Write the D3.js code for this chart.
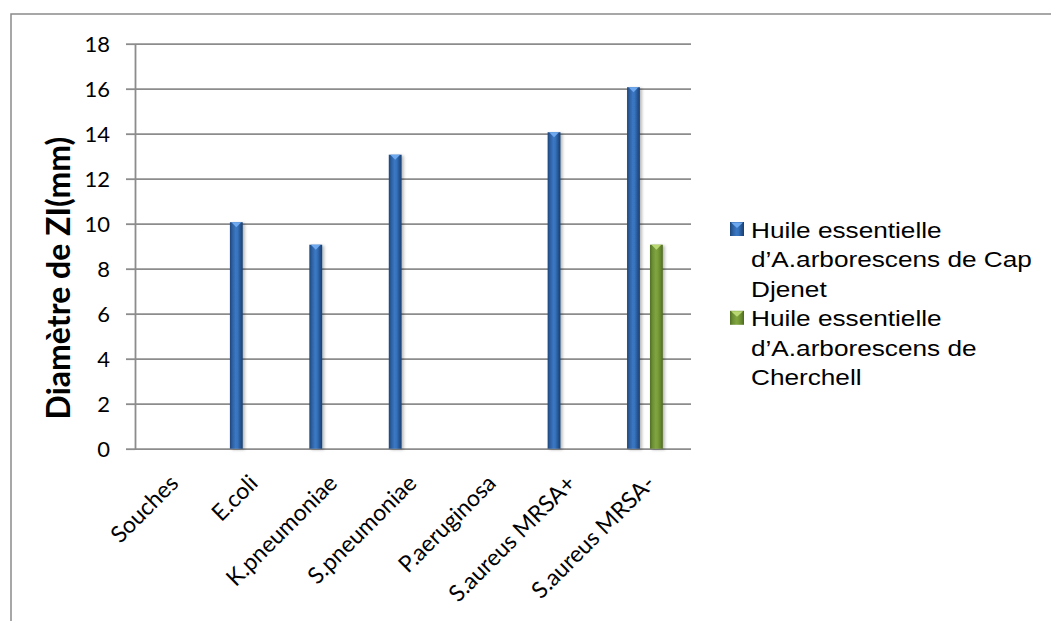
<!DOCTYPE html>
<html>
<head>
<meta charset="utf-8">
<script src="https://cdn.jsdelivr.net/npm/d3@7"></script>
<style>
  html, body { margin: 0; padding: 0; background: #fff; }
  svg { display: block; }
</style>
</head>
<body>
<svg id="chart" width="1051" height="621"></svg>
<script>
// Inhibition zone diameters (mm) per bacterial strain
const categories = ["Souches", "E.coli", "K.pneumoniae", "S.pneumoniae", "P.aeruginosa", "S.aureus MRSA+", "S.aureus MRSA-"];
const capDjenet = [null, 10, 9, 13, 0, 14, 16];
const cherchell = [null, null, null, null, null, null, 9];
const seriesKeys = ["capDjenet", "cherchell"];
const legendLines = [
  ["Huile essentielle", "d\u2019A.arborescens de Cap", "Djenet"],
  ["Huile essentielle", "d\u2019A.arborescens de", "Cherchell"]
];
const yTicks = [0, 2, 4, 6, 8, 10, 12, 14, 16, 18];
const yTitle = "Diamètre de ZI(mm)";

const seriesValues = { capDjenet, cherchell };
const rows = categories.map((c, i) => ({
  category: c,
  values: seriesKeys.map(k => ({ key: k, value: seriesValues[k][i] }))
}));

const svg = d3.select("#chart");
const plot = { left: 135, right: 691, top: 43.7, bottom: 448.7 };

const x0 = d3.scaleBand().domain(categories).range([plot.left, plot.right]).padding(0);
const bw = x0.bandwidth();
const x1 = d3.scaleBand().domain(seriesKeys)
  .range([bw * 0.195, bw * 0.645]).paddingInner(0.44).paddingOuter(0);
const y = d3.scaleLinear().domain([0, 18]).range([plot.bottom, plot.top]);

const defs = svg.append("defs");
const palettes = {
  capDjenet: { stops: ["#1c4579", "#2c5e9f", "#3b78c4", "#3673bd", "#24508b", "#193e6d"], cap: "#6ea8ee" },
  cherchell: { stops: ["#506d22", "#6a8d33", "#80a53e", "#7a9e3a", "#62832d", "#4b661f"], cap: "#b9d873" }
};
seriesKeys.forEach(k => {
  const g = defs.append("linearGradient").attr("id", "grad-" + k)
    .attr("x1", "0").attr("x2", "1").attr("y1", "0").attr("y2", "0");
  const offs = [0, 0.18, 0.45, 0.6, 0.85, 1];
  palettes[k].stops.forEach((c, i) => g.append("stop").attr("offset", offs[i]).attr("stop-color", c));
});
const sh = defs.append("filter").attr("id", "shadow")
  .attr("x", "-50%").attr("y", "-10%").attr("width", "200%").attr("height", "120%");
sh.append("feDropShadow").attr("dx", 2).attr("dy", 1).attr("stdDeviation", 1.8)
  .attr("flood-color", "#000").attr("flood-opacity", 0.28);

// chart frame (extends past the right and bottom edges)
svg.append("rect").attr("x", 11).attr("y", 14).attr("width", 1200).attr("height", 800)
  .attr("fill", "#fff").attr("stroke", "#8a8a8a").attr("stroke-width", 1.5);

// gridlines
svg.append("g")
  .attr("transform", `translate(${plot.left},0)`)
  .call(d3.axisLeft(y).tickValues(yTicks).tickSize(-(plot.right - plot.left)).tickFormat(""))
  .call(g => g.select(".domain").remove())
  .call(g => g.selectAll("line").attr("stroke", "#8c8c8c").attr("stroke-width", 1.8));

// y axis with outside ticks and labels
svg.append("g")
  .attr("transform", `translate(${plot.left},0)`)
  .call(d3.axisLeft(y).tickValues(yTicks).tickSize(9).tickSizeOuter(0).tickPadding(16))
  .call(g => g.select(".domain").attr("stroke", "#8c8c8c").attr("stroke-width", 1.8))
  .call(g => g.selectAll(".tick line").attr("stroke", "#8c8c8c").attr("stroke-width", 1.8))
  .call(g => g.selectAll("text")
    .attr("font-family", "Lato, 'Open Sans', sans-serif")
    .attr("font-size", 22).attr("fill", "#000").attr("dy", "0.34em"));

// bars
const groups = svg.append("g").selectAll("g").data(rows).join("g")
  .attr("transform", d => `translate(${x0(d.category)},0)`);

const bars = groups.selectAll("g.bar")
  .data(d => d.values.filter(v => v.value != null && v.value > 0))
  .join("g").attr("class", "bar");

bars.append("rect")
  .attr("x", d => x1(d.key))
  .attr("y", d => y(d.value) - 1.5)
  .attr("width", x1.bandwidth())
  .attr("height", d => y(0) - y(d.value) + 1.5)
  .attr("fill", d => `url(#grad-${d.key})`)
  .attr("filter", "url(#shadow)");

bars.append("path")
  .attr("d", d => {
    const xl = x1(d.key), w = x1.bandwidth(), yt = y(d.value) - 1.5;
    return `M${xl + 1.5},${yt}L${xl + w - 1.5},${yt}L${xl + w / 2},${yt + 5}Z`;
  })
  .attr("fill", d => palettes[d.key].cap);

// category labels
svg.append("g")
  .attr("transform", `translate(0,${plot.bottom})`)
  .call(d3.axisBottom(x0).tickSize(0).tickPadding(0))
  .call(g => g.select(".domain").remove())
  .call(g => g.selectAll(".tick text")
    .attr("font-family", "Lato, 'Open Sans', sans-serif")
    .attr("font-size", 23).attr("fill", "#000")
    .attr("text-anchor", "end")
    .attr("dy", 0).attr("y", 0)
    .attr("transform", "translate(5,36) rotate(-45)"));

// y axis title
svg.append("text")
  .attr("transform", "translate(70,278) rotate(-90)")
  .attr("text-anchor", "middle")
  .attr("font-family", "Lato, 'Open Sans', sans-serif")
  .attr("font-weight", "bold").attr("font-size", 32).attr("fill", "#000")
  .text(yTitle);

// legend
const legend = svg.append("g").attr("transform", "translate(730,222)");
const lineH = 29.6;
seriesKeys.forEach((k, i) => {
  const gy = i * 3 * lineH;
  const item = legend.append("g").attr("transform", `translate(0,${gy})`);
  item.append("rect").attr("x", 0).attr("y", 0).attr("width", 14).attr("height", 14)
    .attr("fill", `url(#grad-${k})`);
  item.append("path").attr("d", "M1,0.5L13,0.5L7,6Z").attr("fill", palettes[k].cap);
  const t = item.append("text")
    .attr("font-family", "'Liberation Sans', Arial, sans-serif")
    .attr("font-size", 22).attr("fill", "#000")
    .attr("transform", "translate(21,15.5) scale(1.19,1)");
  legendLines[i].forEach((ln, j) => {
    t.append("tspan").attr("x", 0).attr("y", j * lineH).text(ln);
  });
});
</script>
</body>
</html>
